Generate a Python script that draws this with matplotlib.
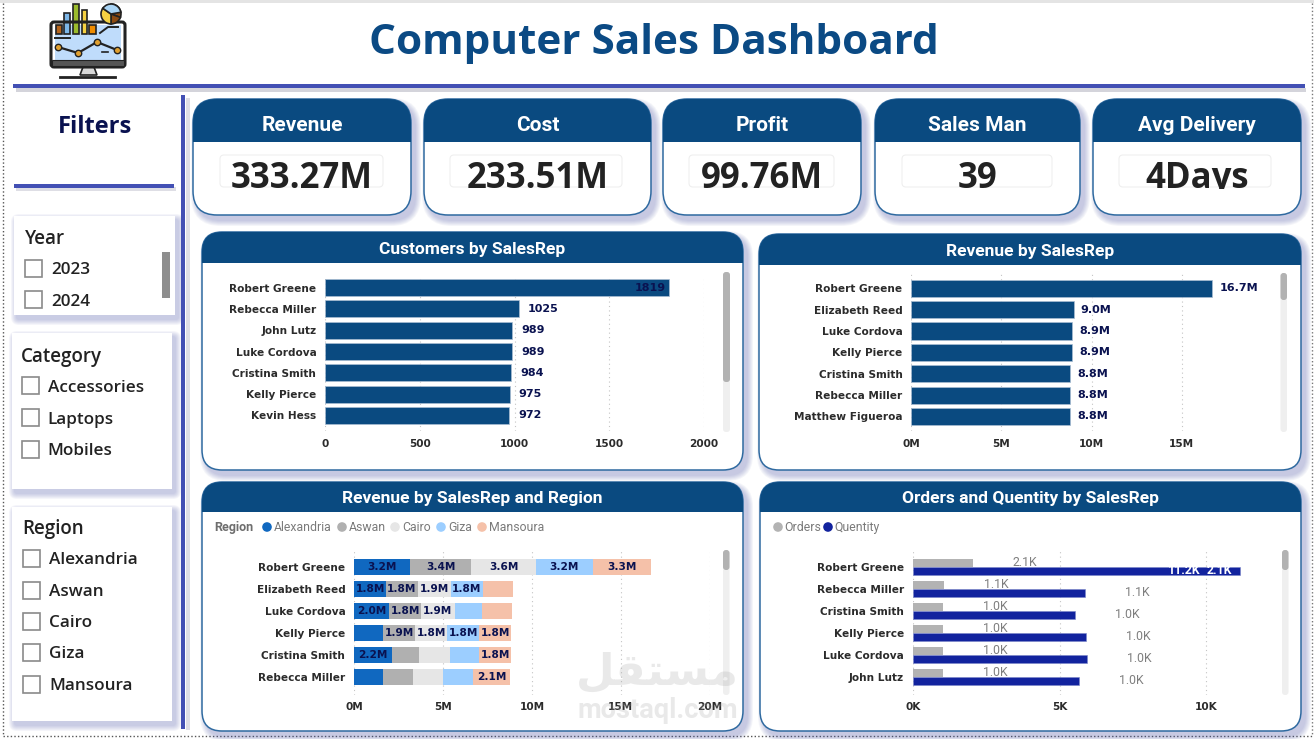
import matplotlib
matplotlib.use("Agg")
import matplotlib.pyplot as plt
from matplotlib.patches import FancyBboxPatch, Rectangle, Circle, Wedge, Polygon

# ---------- data ----------
title = "Computer Sales Dashboard"
kpi_names = ["Revenue", "Cost", "Profit", "Sales Man", "Avg Delivery"]
kpi_values = ["333.27M", "233.51M", "99.76M", "39", "4Days"]

years = ["2023", "2024"]
categories = ["Accessories", "Laptops", "Mobiles"]
regions = ["Alexandria", "Aswan", "Cairo", "Giza", "Mansoura"]

cust_reps = ["Robert Greene", "Rebecca Miller", "John Lutz", "Luke Cordova",
             "Cristina Smith", "Kelly Pierce", "Kevin Hess"]
cust_values = [1819, 1025, 989, 989, 984, 975, 972]
cust_ticks = [0, 500, 1000, 1500, 2000]

rev_reps = ["Robert Greene", "Elizabeth Reed", "Luke Cordova", "Kelly Pierce",
            "Cristina Smith", "Rebecca Miller", "Matthew Figueroa"]
rev_values = [16.7, 9.0, 8.9, 8.9, 8.8, 8.8, 8.8]
rev_ticks = [0, 5, 10, 15]

reg_reps = ["Robert Greene", "Elizabeth Reed", "Luke Cordova", "Kelly Pierce",
            "Cristina Smith", "Rebecca Miller"]
alexandria = [3.16, 1.77, 1.97, 1.59, 2.13, 1.63]
aswan = [3.42, 1.79, 1.79, 1.85, 1.53, 1.67]
cairo = [3.66, 1.89, 1.89, 1.79, 1.73, 1.69]
giza = [3.18, 1.79, 1.55, 1.79, 1.65, 1.69]
mansoura = [3.28, 1.69, 1.67, 1.81, 1.77, 2.07]
alexandria_lbl = ["3.2M", "1.8M", "2.0M", "", "2.2M", ""]
aswan_lbl = ["3.4M", "1.8M", "1.8M", "1.9M", "", ""]
cairo_lbl = ["3.6M", "1.9M", "1.9M", "1.8M", "", ""]
giza_lbl = ["3.2M", "1.8M", "", "1.8M", "", ""]
mansoura_lbl = ["3.3M", "", "", "1.8M", "1.8M", "2.1M"]
reg_ticks = [0, 5, 10, 15, 20]

oq_reps = ["Robert Greene", "Rebecca Miller", "Cristina Smith", "Kelly Pierce",
           "Luke Cordova", "John Lutz"]
orders = [2.05, 1.07, 1.02, 1.02, 1.02, 1.02]
quantity = [11.15, 5.88, 5.52, 5.90, 5.93, 5.67]
orders_lbl = ["2.1K", "1.1K", "1.0K", "1.0K", "1.0K", "1.0K"]
oq_ticks = [0, 5, 10]

# ---------- style ----------
NAVY = "#0A4A80"
INK = "#0A1250"
RULE = "#4350B4"
DARK = "#2B2B2B"
LAB = "DejaVu Sans"
HEAD = "Roboto"
BIG = "Open Sans"
AC = ["#1068C0", "#B0B0B0", "#E6E6E6", "#9CCEFF", "#F5C1A9"]

W, H = 1314, 739
fig = plt.figure(figsize=(W / 100, H / 100), dpi=100, facecolor="white")
bg = fig.add_axes([0, 0, 1, 1], zorder=0)
bg.set_xlim(0, W)
bg.set_ylim(H, 0)
bg.axis("off")


def rbox(x0, y0, x1, y1, r, **kw):
    p = FancyBboxPatch((x0 + r, y0 + r), x1 - x0 - 2 * r, y1 - y0 - 2 * r,
                       boxstyle=f"round,pad={r},rounding_size={r}", **kw)
    bg.add_patch(p)
    return p


def shadow(x0, y0, x1, y1, r=10, dx=4, dy=5, strength=0.06, col="#4F58A8"):
    for k in range(6, 0, -1):
        rbox(x0 + dx - k, y0 + dy - k, x1 + dx + k, y1 + dy + k, r + k,
             fc=col, ec="none", alpha=strength, zorder=1)


def card(x0, y0, x1, y1, head_bottom, label, fs, r=22, ypad=0):
    shadow(x0, y0, x1, y1, r=r)
    c = rbox(x0, y0, x1, y1, r, fc="white", ec="#2F6AA0", lw=1.1, zorder=2)
    h = Rectangle((x0, y0), x1 - x0, head_bottom - y0, fc=NAVY, ec="none", zorder=3)
    bg.add_patch(h)
    h.set_clip_path(c)
    bg.text((x0 + x1) / 2, (y0 + head_bottom) / 2 + ypad, label, color="white", fontsize=fs,
            fontfamily=HEAD, fontweight="bold", ha="center", va="center", zorder=4)


def axes_px(l, t, r, b):
    a = fig.add_axes([l / W, 1 - b / H, (r - l) / W, (b - t) / H], zorder=5)
    a.patch.set_alpha(0)
    for s in a.spines.values():
        s.set_visible(False)
    a.grid(axis="x", ls=(0, (1, 3)), lw=0.8, color="#C4C4C4")
    a.set_axisbelow(True)
    a.tick_params(axis="both", length=0)
    return a


def style_ticks(a, reps, ticks, labels, ypx, pad_y=6.5, fs=7.6):
    a.set_yticks(range(len(reps)), reps, fontfamily=LAB, fontweight="bold",
                 fontsize=fs, color=DARK)
    a.set_xticks(ticks, labels, fontfamily=LAB, fontweight="bold", fontsize=fs, color=DARK)
    a.tick_params(axis="y", pad=pad_y)
    a.tick_params(axis="x", pad=ypx)


def scrollbar(x0, x1, y0, y1, thumb_end, col="#B2B2B2"):
    rbox(x0, y0, x1, y1, 3, fc="#EFEFEF", ec="none", zorder=4)
    rbox(x0, y0, x1, thumb_end, 3, fc=col, ec="none", zorder=4)


# ---------- frame ----------
bg.add_patch(Rectangle((0, 0), W, 3, fc="#E4E4E4", ec="none", zorder=1))
bg.plot([3, 3], [3, 736], color="#555555", lw=1, ls=(0, (1, 1.6)), zorder=1)
bg.plot([3, W - 1], [736, 736], color="#555555", lw=1, ls=(0, (1, 1.6)), zorder=1)
bg.plot([W - 2, W - 2], [3, 736], color="#777777", lw=1, ls=(0, (1, 1.6)), zorder=1)

# title and rules
bg.text(654, 44, title, color="#0B4A84", fontsize=30.4, fontweight="bold",
        fontfamily=BIG, ha="center", va="center", zorder=3)
bg.add_patch(Rectangle((16, 88), 1290, 4, fc="#B8B8C4", ec="none", alpha=0.6, zorder=1))
bg.add_patch(Rectangle((13, 84), 1292, 4, fc=RULE, ec="none", zorder=2))
bg.add_patch(Rectangle((186, 98), 4, 632, fc="#C8C8D4", ec="none", alpha=0.6, zorder=1))
bg.add_patch(Rectangle((181, 95), 4, 634, fc=RULE, ec="none", zorder=2))

# icon
bg.add_patch(Rectangle((55, 25), 66, 36, fc="#BFDCFB", ec="none", zorder=3))
for x0, x1, top, col in [(56, 62, 25, "#B5651D"), (64, 70, 13, "#7DB7E8"), (73, 79, 4, "#9BBB2C"),
                         (82, 87, 10, "#F5D142"), (89, 96, 25, "#F08C00")]:
    bg.add_patch(Rectangle((x0, top), x1 - x0, 34 - top, fc=col, ec="#222222", lw=1.2, zorder=4))
rbox(51, 22, 125, 67, 3, fc="none", ec="#222222", lw=2.2, zorder=5)
bg.add_patch(Rectangle((52, 60), 72, 6, fc="#555555", ec="#222222", lw=0.8, zorder=5))
bg.add_patch(Polygon([[83, 67], [94, 67], [97, 75], [80, 75]], fc="#D8D8D8", ec="#222222", lw=1.2, zorder=4))
bg.plot([60, 115], [77, 77], color="#222222", lw=2, zorder=5)
bg.plot([58, 78, 97, 117], [47, 53, 42, 50], color="#222222", lw=1.6, marker="o", ms=4.6,
        mfc="#E0A030", mec="#222222", zorder=6)
bg.plot([55, 70], [38, 38], color="#222222", lw=1.4, zorder=5)
bg.plot([100, 108, 118], [33, 27, 27], color="#222222", lw=1.4, zorder=5)
bg.plot([102, 108], [52, 52], color="#222222", lw=1.2, zorder=5)
bg.add_patch(Wedge((111, 14), 10, -90, 20, fc="#8B4A12", ec="#222222", lw=1.2, zorder=6))
bg.add_patch(Wedge((111, 14), 10, 20, 90, fc="#8B4A12", ec="#222222", lw=1.2, zorder=6))
bg.add_patch(Wedge((111, 14), 10, 90, 215, fc="#F5D142", ec="#222222", lw=1.2, zorder=6))
bg.add_patch(Wedge((111, 14), 10, 215, 350, fc="#A9D4F5", ec="#222222", lw=1.2, zorder=6))

# ---------- filters ----------
bg.text(95, 127, "Filters", color=INK, fontsize=17, fontweight="bold", fontfamily=BIG,
        ha="center", va="center", zorder=3)
bg.add_patch(Rectangle((16, 187), 160, 4, fc="#C8C8D4", ec="none", alpha=0.6, zorder=1))
bg.add_patch(Rectangle((14, 184), 160, 3.5, fc=RULE, ec="none", zorder=2))


def slicer(x0, y0, x1, y1, head, hx, hy, items, box_x, ys, tx):
    shadow(x0, y0, x1, y1, r=2, dx=3, dy=4, strength=0.055)
    bg.add_patch(Rectangle((x0, y0), x1 - x0, y1 - y0, fc="white", ec="none", zorder=2))
    bg.text(hx, hy + 1, head, color="#222222", fontsize=13.5, fontfamily=BIG, fontweight="semibold",
            ha="left", va="center", zorder=3)
    for item, yy in zip(items, ys):
        bg.add_patch(Rectangle((box_x, yy - 8.5), 17, 17, fc="white", ec="#8A8A8A", lw=1.2, zorder=3))
        bg.text(tx, yy + 2, item, color="#222222", fontsize=12.3, fontfamily=BIG, fontweight="semibold",
                ha="left", va="center", zorder=3)


slicer(14, 216, 175, 315, "Year", 25, 238, years, 25, [268, 299.5], 51)
bg.add_patch(Rectangle((162, 252), 8, 46, fc="#8E8E8E", ec="none", zorder=4))
slicer(12, 333, 172, 489, "Category", 21, 356, categories, 21.5, [385.5, 417.5, 449], 47.5)
slicer(12, 507, 172, 721, "Region", 22, 528, regions, 23, [558, 590, 621, 652, 684], 49)

# ---------- KPI cards ----------
kpi_x = [(193, 411), (424, 651), (663, 861), (875, 1080), (1093, 1301)]
kpi_in = [(220, 383), (450, 622), (689, 834), (902, 1052), (1119, 1271)]
for (x0, x1), (i0, i1), n, v in zip(kpi_x, kpi_in, kpi_names, kpi_values):
    card(x0, 99, x1, 215, 142, n, 15, r=24, ypad=5)
    rbox(i0, 155, i1, 187, 4, fc="none", ec="#EFEFEF", lw=0.8, zorder=3)
    t = bg.text((x0 + x1) / 2, 179, v, color="#222222", fontsize=25,
                fontweight="bold", fontfamily=BIG, ha="center", va="center", zorder=4)
    clip = Rectangle((i0 - 5, 150), i1 - i0 + 10, 39, transform=bg.transData)
    t.set_clip_path(clip)
    t.set_clip_on(True)

# ---------- chart cards ----------
card(202, 232, 743, 470, 263, "Customers by SalesRep", 12.5, r=20, ypad=2)
card(759, 234, 1301, 470, 265, "Revenue by SalesRep", 12.5, r=20, ypad=2)
card(202, 482, 743, 731, 512, "Revenue by SalesRep and Region", 12.5, r=20, ypad=2)
card(760, 482, 1301, 731, 512, "Orders and Quentity by SalesRep", 12.5, r=20, ypad=2)

scrollbar(723, 730, 272, 432, 382)
scrollbar(1280.5, 1287, 273, 432, 300)
scrollbar(723, 729.5, 550, 695, 570)
scrollbar(1282, 1288.5, 550, 695, 570)

# Customers by SalesRep
a1 = axes_px(325.4, 277, 703.6, 431)
a1.barh(range(len(cust_reps)), cust_values, height=0.8, color=NAVY, ec="#A9BDD2", lw=0.5)
a1.set_xlim(0, 2000)
a1.set_ylim(6.73, -0.5)
style_ticks(a1, cust_reps, cust_ticks, [str(t) for t in cust_ticks], 6)
for i, v in enumerate(cust_values):
    if v > 1500:
        a1.text(v - 20, i, str(v), ha="right", va="center", color=INK, fontsize=8,
                fontweight="bold", fontfamily=LAB)
    else:
        a1.text(v + 46, i, str(v), ha="left", va="center", color=INK, fontsize=8,
                fontweight="bold", fontfamily=LAB)

# Revenue by SalesRep
a2 = axes_px(911.5, 274, 1271.5, 431)
a2.barh(range(len(rev_reps)), rev_values, height=0.8, color=NAVY, ec="#A9BDD2", lw=0.5)
a2.set_xlim(0, 20)
a2.set_ylim(6.68, -0.67)
style_ticks(a2, rev_reps, rev_ticks, [f"{t}M" for t in rev_ticks], 6)
for i, v in enumerate(rev_values):
    a2.text(v + 0.4, i, f"{v:.1f}M", ha="left", va="center", color=INK, fontsize=8,
            fontweight="bold", fontfamily=LAB)

# Revenue by SalesRep and Region
a3 = axes_px(354.3, 551, 709.5, 695)
left = [0.0] * len(reg_reps)
for vals, lbls, col in zip([alexandria, aswan, cairo, giza, mansoura],
                           [alexandria_lbl, aswan_lbl, cairo_lbl, giza_lbl, mansoura_lbl], AC):
    a3.barh(range(len(reg_reps)), vals, left=left, height=0.74, color=col, ec="none")
    for i, (v, t) in enumerate(zip(vals, lbls)):
        if t:
            a3.text(left[i] + v / 2, i, t, ha="center", va="center", color=INK, fontsize=7.6,
                    fontweight="bold", fontfamily=LAB)
    left = [l + v for l, v in zip(left, vals)]
a3.set_xlim(0, 20)
a3.set_ylim(5.82, -0.72)
style_ticks(a3, reg_reps, reg_ticks, [f"{t}M" for t in reg_ticks], 5)

# legend 3
bg.text(214, 527.5, "Region", color="#6E6E6E", fontsize=9, fontweight="bold", fontfamily=HEAD,
        ha="left", va="center", zorder=4)
lx = [267, 342, 395, 441, 482]
for x, name, col in zip(lx, regions, AC):
    bg.add_patch(Circle((x, 527), 4.8, fc=col, ec="none", zorder=4))
    bg.text(x + 7, 527.5, name, color="#7A7A7A", fontsize=8.8, fontfamily=HEAD, ha="left",
            va="center", zorder=4)

# Orders and Quantity by SalesRep
a4 = axes_px(913, 551, 1265, 695)
ypos = list(range(len(oq_reps)))
a4.barh([y - 0.18 for y in ypos], orders, height=0.36, color="#B3B3B3", ec="none")
a4.barh([y + 0.18 for y in ypos], quantity, height=0.36, color="#12239E", ec="#7A86C8", lw=0.4)
a4.set_xlim(0, 12)
a4.set_ylim(5.82, -0.72)
style_ticks(a4, oq_reps, oq_ticks, [f"{t}K" for t in oq_ticks], 5)
for i, (o, q, t) in enumerate(zip(orders, quantity, orders_lbl)):
    a4.text(o + 1.77, i - 0.18, t, ha="center", va="center", color="#7F7F7F", fontsize=8.8,
            fontfamily=HEAD)
    if q > 10:
        a4.text(q - 0.7, i + 0.18, t, ha="center", va="center", color="white", fontsize=8.8,
                fontweight="bold", fontfamily=HEAD)
        a4.text(q - 1.9, i + 0.18, "11.2K", ha="center", va="center", color="white", fontsize=8.8,
                fontweight="bold", fontfamily=HEAD)
    else:
        a4.text(q + 1.77, i + 0.18, t, ha="center", va="center", color="#7F7F7F", fontsize=8.8,
                fontfamily=HEAD)

# legend 4
for x, name, col in zip([778, 828], ["Orders", "Quentity"], ["#B3B3B3", "#12239E"]):
    bg.add_patch(Circle((x, 527), 4.8, fc=col, ec="none", zorder=4))
    bg.text(x + 6, 527.5, name, color="#7A7A7A", fontsize=8.8, fontfamily=HEAD, ha="left",
            va="center", zorder=4)

# watermark
wm = fig.add_axes([0, 0, 1, 1], zorder=6)
wm.set_xlim(0, W)
wm.set_ylim(H, 0)
wm.axis("off")
wm.text(657, 672, "\ufede\ufed8\ufe98\ufeb4\ufee3", color="#A8A8A8", alpha=0.25, fontsize=32,
        fontweight="bold", fontfamily=LAB, ha="center", va="center")
wm.text(658, 710, "mostaql.com", color="#A8A8A8", alpha=0.25, fontsize=19.6, fontweight="bold",
        fontfamily=HEAD, ha="center", va="center")

fig.savefig("out.png", dpi=100)
